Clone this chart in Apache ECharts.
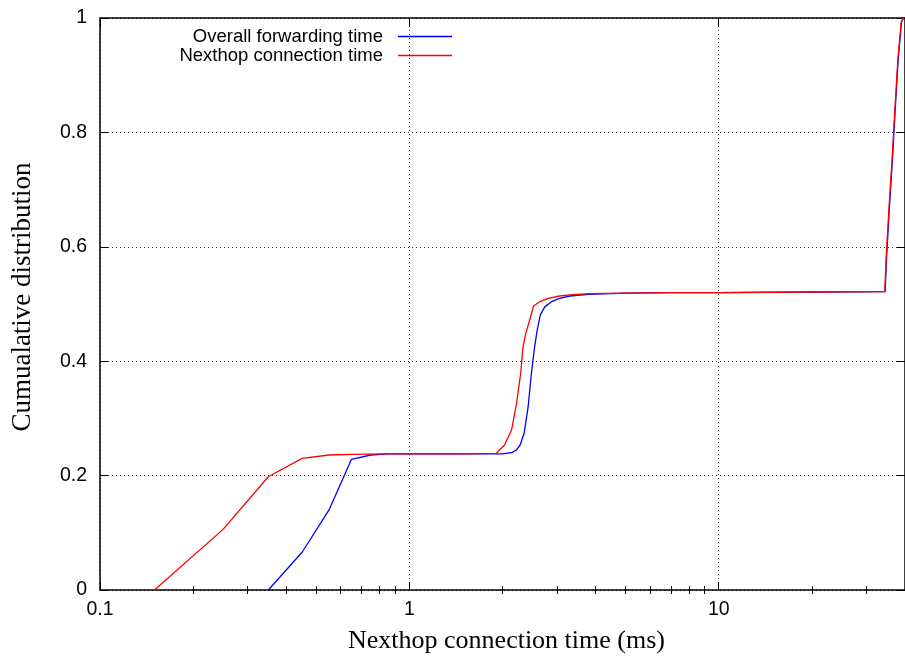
<!DOCTYPE html>
<html><head><meta charset="utf-8">
<script src="https://cdn.jsdelivr.net/npm/echarts@6/dist/echarts.min.js"></script>
<style>html,body{margin:0;padding:0;background:#fff}#c{width:905px;height:660px}</style>
</head><body><div id="c"></div>
<script>
const seriesNames = ['Overall forwarding time', 'Nexthop connection time'];
const overallX = [0.35,0.45,0.55,0.65,0.75,0.85,1.0,1.5,2.0,2.14,2.22,2.28,2.35,2.42,2.48,2.54,2.59,2.65,2.74,2.88,3.06,3.3,3.8,5,7,10,20,34.5,34.9,35.6,36.5,37.1,38.05,39.0,39.6];
const overallY = [0,0.066,0.14,0.2285,0.236,0.238,0.238,0.238,0.238,0.240,0.245,0.2535,0.274,0.32,0.379,0.425,0.4545,0.481,0.495,0.504,0.510,0.514,0.517,0.519,0.52,0.52,0.521,0.5215,0.585,0.667,0.76,0.83,0.93,0.9935,1];
const nexthopX = [0.15,0.25,0.35,0.45,0.55,0.65,0.85,1.0,1.5,1.91,2.03,2.14,2.22,2.29,2.33,2.38,2.44,2.52,2.64,2.81,3.06,3.3,3.8,5,7,10,20,34.4,34.8,35.5,36.4,37.0,37.95,38.9,39.5];
const nexthopY = [0,0.106,0.198,0.230,0.236,0.237,0.238,0.238,0.238,0.239,0.2535,0.28,0.326,0.379,0.425,0.449,0.469,0.4965,0.504,0.510,0.514,0.516,0.518,0.519,0.52,0.52,0.521,0.5215,0.5857,0.667,0.7605,0.83,0.9295,0.9935,1];
const xMajorTicks = [0.1, 1, 10];
const xMinorTicks = [0.2,0.3,0.4,0.5,0.6,0.7,0.8,0.9,2,3,4,5,6,7,8,9,20,30];
const xMin = 0.1, xMax = 40;

const zip = (xs, ys) => xs.map((x, i) => [x, ys[i]]);
const sans = 'Liberation Sans';
const serif = 'Liberation Serif';
const axisLine = {show: true, onZero: false, lineStyle: {color: '#000', width: 1.5}};
const tickStyle = {color: '#000', width: 1};

function majorAxis(pos, withLabels) {
  return {
    type: 'log', logBase: 10, min: xMin, max: xMax, position: pos,
    axisLine: axisLine,
    axisTick: {show: true, inside: true, length: 8, customValues: xMajorTicks, lineStyle: tickStyle},
    axisLabel: withLabels ? {show: true, customValues: xMajorTicks, fontFamily: sans, fontSize: 19.5, color: '#000', margin: 10,
      formatter: v => String(v)} : {show: false},
    splitLine: withLabels ? {show: true, lineStyle: {color: '#333', type: [1, 3], width: 1}} : {show: false}
  };
}
function minorAxis(pos) {
  return {
    type: 'value', min: Math.log10(xMin), max: Math.log10(xMax), position: pos,
    axisLine: {show: false},
    axisTick: {show: true, inside: true, length: 4, customValues: xMinorTicks.map(Math.log10), lineStyle: tickStyle},
    axisLabel: {show: false}, splitLine: {show: false}
  };
}

const chart = echarts.init(document.getElementById('c'), null, {renderer: 'canvas'});
chart.setOption({
  animation: false,
  backgroundColor: '#fff',
  grid: {left: 100, right: 0, top: 18, bottom: 70, containLabel: false},
  legend: {
    orient: 'vertical', align: 'right', right: 448, top: 22,
    itemWidth: 54, itemHeight: 1.5, itemGap: 0, icon: 'rect',
    textStyle: {fontFamily: sans, fontSize: 18.5, color: '#000', lineHeight: 17, padding: [0, 10, 0, 0]},
    data: seriesNames
  },
  xAxis: [
    Object.assign(majorAxis('bottom', true), {
      name: 'Nexthop connection time (ms)', nameLocation: 'middle', nameGap: 38,
      nameTextStyle: {fontFamily: serif, fontSize: 26, color: '#000', padding: [0, 0, 0, 8]}
    }),
    minorAxis('bottom'),
    majorAxis('top', false),
    minorAxis('top')
  ],
  yAxis: [
    {
      type: 'value', min: 0, max: 1, interval: 0.2, position: 'left',
      name: 'Cumualative distribution', nameLocation: 'middle', nameGap: 64, nameRotate: 90,
      nameTextStyle: {fontFamily: serif, fontSize: 27, color: '#000', padding: [0, 0, 0, 14]},
      axisLine: axisLine,
      axisTick: {show: true, inside: true, length: 8, lineStyle: tickStyle},
      axisLabel: {fontFamily: sans, fontSize: 19.5, color: '#000', margin: 13},
      splitLine: {show: true, lineStyle: {color: '#333', type: [1, 3], width: 1}}
    },
    {
      type: 'value', min: 0, max: 1, interval: 0.2, position: 'right',
      axisLine: axisLine,
      axisTick: {show: true, inside: true, length: 8, lineStyle: tickStyle},
      axisLabel: {show: false}, splitLine: {show: false}
    }
  ],
  series: [
    {name: seriesNames[0], type: 'line', xAxisIndex: 0, yAxisIndex: 0, symbol: 'none',
     lineStyle: {color: '#0000ff', width: 1.3}, itemStyle: {color: '#0000ff'}, data: zip(overallX, overallY)},
    {name: seriesNames[1], type: 'line', xAxisIndex: 0, yAxisIndex: 0, symbol: 'none',
     lineStyle: {color: '#ff0000', width: 1.3}, itemStyle: {color: '#ff0000'}, data: zip(nexthopX, nexthopY)}
  ]
});
</script>
</body></html>
